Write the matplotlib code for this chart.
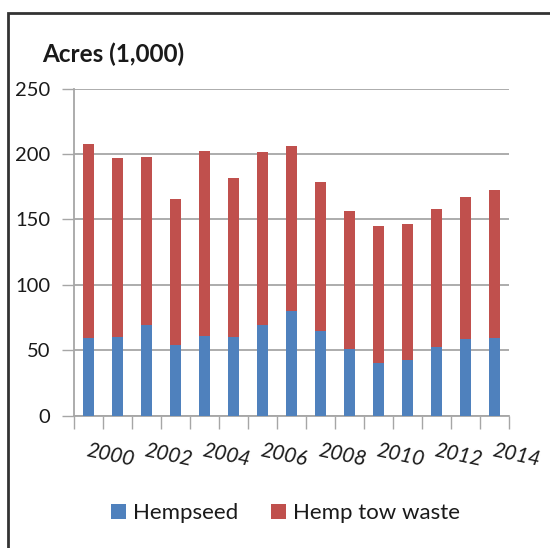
import matplotlib
matplotlib.use("Agg")
import matplotlib.pyplot as plt
import matplotlib.transforms as mtransforms
from matplotlib.patches import Rectangle
import numpy as np

years = list(range(2000, 2015))
hempseed = [59.6, 60.2, 69.3, 53.8, 61.2, 60.2, 69.3, 80.3, 65.0, 51.2, 40.3, 42.3, 52.3, 58.6, 59.6]
total = [207.7, 196.8, 197.8, 165.9, 202.4, 181.5, 201.6, 206.2, 178.7, 156.3, 145.0, 146.8, 157.8, 167.0, 172.3]
tow_waste = [t - h for t, h in zip(total, hempseed)]
label_years = [2000, 2002, 2004, 2006, 2008, 2010, 2012, 2014]

blue = "#4F81BD"
red = "#C0504D"
grid_c = "#A6A6A6"
text_c = "#1a1a1a"

plt.rcParams['font.family'] = ['Lato', 'DejaVu Sans']

fig = plt.figure(figsize=(5.5, 5.48), dpi=100)
ax = fig.add_axes([74 / 550, 1 - 415.7 / 548, 435 / 550, (415.7 - 88.7) / 548])

x = np.arange(len(years))
ax.bar(x, hempseed, width=0.4, color=blue, label="Hempseed", zorder=3)
ax.bar(x, tow_waste, width=0.4, bottom=hempseed, color=red, label="Hemp tow waste", zorder=3)

ax.set_xlim(-0.5, len(years) - 0.5)
ax.set_ylim(0, 250)
ax.set_yticks(range(0, 251, 50))
ax.yaxis.grid(True, color=grid_c, linewidth=1.3, zorder=0)
ax.tick_params(axis='y', length=9, width=1, color=grid_c, labelsize=14.5, pad=8, labelcolor=text_c)

# ticks sit between the categories, like Excel
ax.set_xticks(np.arange(-0.5, len(years), 1.0))
ax.set_xticklabels([])
ax.tick_params(axis='x', length=9, width=1, color=grid_c)

for s in ['top', 'right']:
    ax.spines[s].set_visible(False)
for s in ['left', 'bottom']:
    ax.spines[s].set_color(grid_c)
    ax.spines[s].set_linewidth(1.3)

trans = mtransforms.blended_transform_factory(ax.transData, ax.transAxes)
for yr in label_years:
    ax.text(years.index(yr), -0.075, str(yr), transform=trans, rotation=-12,
            rotation_mode='anchor', ha='left', va='top', fontsize=15,
            style='italic', color=text_c)

fig.text(42 / 550, 1 - 54 / 548, "Acres (1,000)", fontsize=17.5, fontweight='bold',
         ha='left', va='center', color=text_c)

fig.legend(loc='center', bbox_to_anchor=(0.519, 1 - 513 / 548), ncol=2, frameon=False,
           fontsize=16, handlelength=0.68, handleheight=0.68, handletextpad=0.32,
           columnspacing=1.45, labelcolor=text_c)

fig.patches.append(Rectangle((8 / 550, -0.1), 1.2, 1 - 13 / 548 + 0.1, transform=fig.transFigure,
                             fill=False, edgecolor="#333333", linewidth=2))

fig.savefig("out.png", dpi=100)
